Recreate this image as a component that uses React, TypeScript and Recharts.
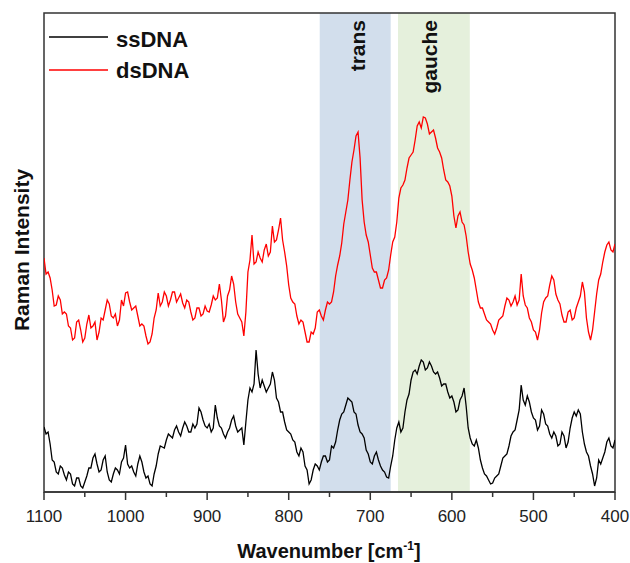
import React from 'react';
import {
  LineChart,
  Line,
  XAxis,
  YAxis,
  ReferenceArea,
} from 'recharts';

// wavenumber grid, cm^-1 (axis runs 1100 -> 400)
const wavenumbers = [
  1100, 1095, 1090, 1085, 1080, 1075, 1070, 1065, 1060, 1055, 1050, 1045, 1040, 1035, 1030, 1025, 1020, 1015, 1010, 1005,
  1000, 995, 990, 985, 980, 975, 970, 965, 960, 955, 950, 945, 940, 935, 930, 925, 920, 915, 910, 905,
  900, 895, 890, 885, 880, 875, 870, 865, 860, 855, 850, 845, 840, 835, 830, 825, 820, 815, 810, 805,
  800, 795, 790, 785, 780, 775, 770, 765, 760, 755, 750, 745, 740, 735, 730, 725, 720, 715, 710, 705,
  700, 695, 690, 685, 680, 675, 670, 665, 660, 655, 650, 645, 640, 635, 630, 625, 620, 615, 610, 605,
  600, 595, 590, 585, 580, 575, 570, 565, 560, 555, 550, 545, 540, 535, 530, 525, 520, 515, 510, 505,
  500, 495, 490, 485, 480, 475, 470, 465, 460, 455, 450, 445, 440, 435, 430, 425, 420, 415, 410, 405,
  400,
];

// dsDNA spectrum (offset upward), arbitrary units, on the grid above
const dsDNA = [
  234, 220, 202, 187, 192, 180, 166, 152, 170, 162, 154, 177, 166, 152, 174, 182, 188, 174, 166, 192,
  199, 190, 184, 176, 168, 156, 150, 174, 199, 190, 196, 192, 200, 194, 189, 192, 180, 174, 184, 178,
  181, 187, 192, 208, 170, 196, 216, 190, 174, 156, 220, 257, 230, 234, 242, 236, 266, 252, 274, 240,
  207, 190, 176, 172, 160, 150, 158, 180, 176, 182, 188, 200, 227, 249, 280, 312, 342, 360, 292, 257,
  237, 220, 212, 204, 214, 237, 255, 294, 307, 324, 337, 352, 370, 375, 368, 360, 354, 340, 322, 310,
  296, 264, 280, 267, 240, 222, 202, 184, 178, 170, 162, 164, 174, 186, 192, 190, 187, 218, 187, 174,
  162, 152, 179, 194, 207, 212, 192, 177, 170, 182, 174, 190, 210, 174, 152, 180, 212, 230, 247, 242,
  248,
];

// dsDNA readings half way between grid points (the noise)
const dsDNAMid = [
  218, 214, 186, 196, 178, 178, 164, 154, 172, 150, 168, 164, 170, 160, 172, 192, 176, 178, 172, 186,
  200, 182, 186, 166, 166, 148, 158, 182, 186, 200, 186, 200, 190, 198, 184, 190, 172, 184, 176, 186,
  180, 196, 194, 192, 176, 202, 208, 178, 170, 180, 232, 228, 240, 230, 248, 240, 250, 262, 252, 226,
  194, 188, 168, 170, 150, 160, 164, 182, 172, 190, 190, 216, 236, 268, 292, 330, 356, 334, 270, 250,
  224, 220, 204, 212, 222, 250, 270, 304, 312, 334, 340, 366, 364, 374, 358, 362, 344, 334, 312, 306,
  276, 276, 270, 256, 228, 214, 190, 184, 172, 168, 158, 172, 176, 194, 186, 196, 192, 196, 184, 170,
  160, 162, 190, 196, 216, 198, 188, 170, 180, 172, 184, 196, 200, 160, 162, 198, 218, 240, 250, 240,
];

// ssDNA spectrum, arbitrary units, on the grid above
const ssDNA = [
  65, 60, 32, 20, 26, 17, 20, 8, 14, 6, 10, 24, 34, 28, 22, 36, 12, 18, 22, 30,
  47, 24, 20, 28, 30, 14, 8, 18, 38, 45, 52, 56, 62, 60, 64, 66, 60, 64, 84, 72,
  64, 60, 87, 66, 58, 60, 72, 66, 62, 47, 92, 100, 142, 104, 106, 104, 120, 94, 80, 70,
  60, 52, 40, 44, 26, 8, 22, 26, 30, 36, 32, 44, 62, 78, 87, 92, 80, 67, 58, 42,
  30, 36, 32, 22, 15, 26, 52, 70, 64, 92, 112, 122, 126, 130, 124, 126, 118, 114, 108, 100,
  96, 80, 92, 104, 64, 48, 52, 32, 18, 12, 9, 16, 26, 36, 46, 60, 72, 107, 87, 90,
  74, 62, 82, 68, 58, 60, 46, 60, 44, 64, 80, 82, 60, 40, 26, 6, 32, 34, 50, 46,
  52,
];

// ssDNA readings half way between grid points (the noise)
const ssDNAMid = [
  58, 48, 30, 18, 24, 12, 18, 6, 14, 4, 16, 24, 38, 20, 32, 20, 10, 24, 18, 34,
  28, 26, 16, 36, 20, 16, 6, 26, 46, 44, 58, 54, 66, 56, 70, 60, 68, 68, 80, 66,
  68, 64, 74, 64, 54, 64, 76, 60, 64, 70, 104, 108, 118, 112, 100, 108, 112, 90, 80, 62,
  58, 50, 36, 40, 22, 12, 28, 22, 36, 30, 46, 50, 72, 80, 94, 90, 78, 60, 54, 38,
  28, 40, 26, 20, 14, 36, 64, 60, 80, 98, 120, 118, 132, 122, 130, 120, 120, 106, 108, 94,
  90, 82, 96, 86, 54, 46, 44, 24, 16, 8, 14, 18, 34, 38, 56, 62, 82, 92, 96, 80,
  72, 66, 78, 66, 54, 56, 48, 56, 50, 74, 76, 78, 48, 36, 18, 14, 28, 40, 54, 44,
];

const xTicks = [1100, 1050, 1000, 950, 900, 850, 800, 750, 700, 650, 600, 550, 500, 450, 400];

const transBand = [762, 675];
const gaucheBand = [666, 578];

const FONT = '"Liberation Sans", Arial, sans-serif';
const AXIS_Y = 492; // pixel row of the bottom axis line

const data = [
  ...wavenumbers.map((w, i) => ({ w, ss: ssDNA[i], ds: dsDNA[i] })),
  ...ssDNAMid.map((v, i) => ({ w: wavenumbers[i] - 2.5, ss: v, ds: dsDNAMid[i] })),
].sort((a, b) => b.w - a.w);

// major ticks (labelled) are longer than the minor ones at the 50s
function WaveTick(props: any) {
  const { x, y, payload } = props;
  const major = payload.value % 100 === 0;
  return (
    <g>
      <line x1={x} x2={x} y1={AXIS_Y} y2={AXIS_Y + (major ? 8 : 5)} stroke="#333" strokeWidth={1.5} />
      {major && (
        <text x={x} y={y} dy="0.71em" textAnchor="middle" fill="#222" fontSize={17} fontFamily={FONT}>
          {payload.value}
        </text>
      )}
    </g>
  );
}

export default function App() {
  return (
    <div style={{ position: 'absolute', left: 0, top: 0, width: 630, height: 563, background: '#fff' }}>
      <LineChart
        width={630}
        height={563}
        data={data}
        margin={{ top: 13, right: 15, left: 44, bottom: 0 }}
      >
        <ReferenceArea
          x1={transBand[0]}
          x2={transBand[1]}
          y1={0}
          y2={479}
          fill="#d2deec"
          fillOpacity={1}
          stroke="none"
        />
        <ReferenceArea
          x1={gaucheBand[0]}
          x2={gaucheBand[1]}
          y1={0}
          y2={479}
          fill="#e5f0dc"
          fillOpacity={1}
          stroke="none"
        />
        <XAxis
          dataKey="w"
          type="number"
          domain={[400, 1100]}
          reversed
          ticks={xTicks}
          interval={0}
          height={71}
          tickLine={false}
          tickSize={7}
          tickMargin={11}
          stroke="#333"
          strokeWidth={1.5}
          tick={<WaveTick />}
          allowDataOverflow
        />
        <YAxis
          type="number"
          domain={[0, 479]}
          width={0}
          hide
          allowDataOverflow
        />
        <Line
          type="linear"
          dataKey="ss"
          stroke="#000000"
          strokeWidth={1.3}
          dot={false}
          isAnimationActive={false}
        />
        <Line
          type="linear"
          dataKey="ds"
          stroke="#ff0000"
          strokeWidth={1.3}
          dot={false}
          isAnimationActive={false}
        />
        <ReferenceArea
          x1={1100}
          x2={400}
          y1={0}
          y2={479}
          fill="none"
          stroke="#333"
          strokeWidth={1.5}
        />
      </LineChart>
      <svg
        width={630}
        height={563}
        style={{ position: 'absolute', left: 0, top: 0, pointerEvents: 'none' }}
        fontFamily={FONT}
        fontWeight="bold"
      >
        <line x1={49} x2={108} y1={37} y2={37} stroke="#000" strokeWidth={1.3} />
        <text x={116} y={47} fontSize={22} fill="#111">ssDNA</text>
        <line x1={49} x2={108} y1={70} y2={70} stroke="#ff0000" strokeWidth={1.3} />
        <text x={116} y={78} fontSize={22} fill="#111">dsDNA</text>

        <text x={365} y={20} fontSize={21} fill="#111" textAnchor="end" transform="rotate(-90 365 20)">trans</text>
        <text x={437} y={20} fontSize={21} fill="#111" textAnchor="end" transform="rotate(-90 437 20)">gauche</text>

        <text x={29} y={250} fontSize={21} fill="#111" textAnchor="middle" transform="rotate(-90 29 250)">Raman Intensity</text>
        <text x={329} y={558} fontSize={20} fill="#111" textAnchor="middle">
          Wavenumber [cm<tspan dy={-8} fontSize={12}>-1</tspan><tspan dy={8}>]</tspan>
        </text>
      </svg>
    </div>
  );
}
